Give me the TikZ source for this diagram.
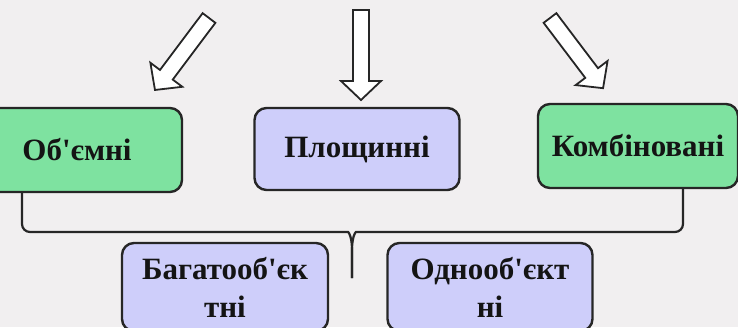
\documentclass[tikz,border=0pt]{standalone}
\usepackage{fontspec}
\newfontfamily\boxfont{Liberation Serif}
\usepackage{tikz}
\usetikzlibrary{positioning}
\tikzset{>=latex}
\usepackage{xcolor}
\definecolor{bgcol}{RGB}{241,239,240}
\definecolor{greencol}{RGB}{126,226,160}
\definecolor{bluecol}{RGB}{206,206,250}
\colorlet{txtcol}{black!92}
\colorlet{linecol}{black!85}
\tikzstyle{box}=[draw=linecol,line width=1.2pt,rounded corners=6pt,text=txtcol,
  font=\boxfont\bfseries\fontsize{15.5}{19}\selectfont,align=center,inner sep=0pt]
\tikzstyle{greenbox}=[box,fill=greencol]
\tikzstyle{bluebox}=[box,fill=bluecol]
\tikzstyle{brace}=[line width=1.1pt,linecol]
\tikzstyle{blockarr}=[draw=linecol,line width=0.9pt,fill=white,line join=miter]

\begin{document}
\begin{tikzpicture}[x=0.5pt,y=-0.5pt]
  \useasboundingbox[fill=bgcol] (0,0) rectangle (738,327);
  \def\shw{8}
  \def\hdw{20}
  \def\hdl{19}

  % top row
  \node[greenbox,minimum width=105pt,minimum height=42pt] (obj) at (77,150) {Об'ємні};
  \node[bluebox,minimum width=102.5pt,minimum height=41pt] (plo) at (357,149) {Площинні};
  \node[greenbox,minimum width=100pt,minimum height=42pt] (komb) at (638,146) {Комбіновані};

  % bottom row
  \node[bluebox,minimum width=103pt,minimum height=44pt] (bag) at (225,287) {Багатооб'єк\\тні};
  \node[bluebox,minimum width=102.5pt,minimum height=44pt] (odn) at (490,287) {Однооб'єкт\\ні};

  % arrows from above
  \foreach \x/\y/\a/\l in {209/18/233.1/90, 361/10/-90/90, 550/18/-52.9/88}{
    \begin{scope}[shift={(\x,\y)},rotate=\a]
      \draw[blockarr] (0,-\shw) -- (\l-\hdl,-\shw) -- (\l-\hdl,-\hdw) -- (\l,0)
        -- (\l-\hdl,\hdw) -- (\l-\hdl,\shw) -- (0,\shw) -- cycle;
    \end{scope}
  }

  % brace
  \coordinate (bl) at (22,232);
  \coordinate (br) at (683,232);
  \coordinate (tip) at (352,278);
  \draw[brace] (obj.south -| bl) [rounded corners=4pt] -- (bl) -- (340,232) [sharp corners]
    .. controls (349,232) and (352,238) .. (352,250) -- (tip);
  \draw[brace] (komb.south -| br) [rounded corners=4pt] -- (br) -- (364,232) [sharp corners]
    .. controls (355,232) and (352,238) .. (352,250) -- (tip);

\end{tikzpicture}
\end{document}
